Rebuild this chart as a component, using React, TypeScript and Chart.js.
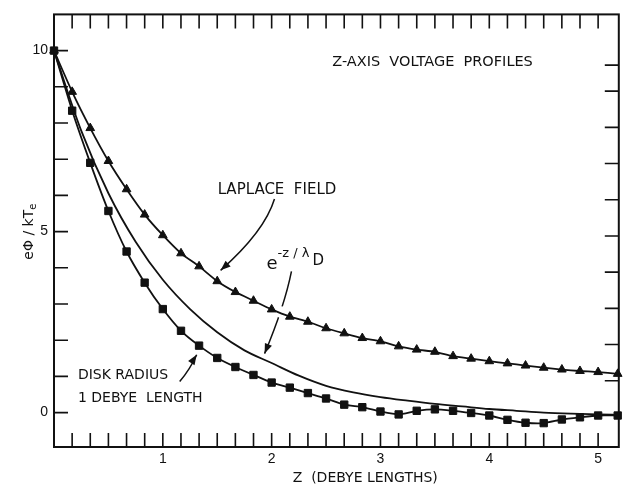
import React, { useEffect, useRef } from 'react';
import { Chart, registerables } from 'chart.js';

Chart.register(...registerables);

// ---- data ----
const zPoints = [0, 0.167, 0.333, 0.5, 0.667, 0.833, 1.0, 1.167, 1.333, 1.5, 1.667, 1.833, 2.0, 2.167, 2.333, 2.5, 2.667, 2.833, 3.0, 3.167, 3.333, 3.5, 3.667, 3.833, 4.0, 4.167, 4.333, 4.5, 4.667, 4.833, 5.0, 5.18];
const laplaceField = [10, 8.86, 7.86, 6.95, 6.17, 5.47, 4.9, 4.4, 4.04, 3.63, 3.33, 3.09, 2.85, 2.65, 2.51, 2.33, 2.19, 2.06, 1.97, 1.83, 1.74, 1.68, 1.56, 1.49, 1.42, 1.36, 1.3, 1.24, 1.19, 1.15, 1.12, 1.07];
const diskRadius = [10, 8.34, 6.9, 5.57, 4.45, 3.59, 2.86, 2.26, 1.85, 1.51, 1.26, 1.04, 0.83, 0.69, 0.54, 0.39, 0.22, 0.15, 0.03, -0.05, 0.05, 0.09, 0.05, -0.01, -0.08, -0.2, -0.28, -0.29, -0.19, -0.13, -0.08, -0.08];
const zExp = [0, 0.25, 0.5, 0.75, 1.0, 1.25, 1.5, 1.75, 2.0, 2.25, 2.5, 2.75, 3.0, 3.25, 3.5, 3.75, 4.0, 4.25, 4.5, 4.75, 5.0, 5.19];
const expDecay = [10, 7.79, 6.06, 4.72, 3.67, 2.86, 2.22, 1.72, 1.37, 1.02, 0.74, 0.56, 0.43, 0.33, 0.24, 0.17, 0.1, 0.05, 0.0, -0.03, -0.05, -0.06];

const xTickLabels = [1, 2, 3, 4, 5];
const yTickLabels = [0, 5, 10];
const leftTicks = [0, 1, 2, 3, 4, 5, 6, 7, 8, 9, 10];
const rightTicks = [0.88, 1.88, 2.88, 3.88, 4.88, 5.88, 6.88, 7.88, 8.88, 9.6];
const xMinorStep = 1 / 6;

const X_MIN = 0;
const X_MAX = 5.19;
const Y_MIN = -0.95;
const Y_MAX = 11;

// annotation anchors in data units
const laplaceLeader = [[2.026, 5.9], [1.962, 5.27], [1.779, 4.59], [1.531, 3.93]];
const expLeader = [[2.182, 3.9], [2.118, 2.94], [1.935, 1.63]];
const expLeaderGap = [2.091, 2.77];
const diskLeader = [[1.155, 0.86], [1.311, 1.6]];

const INK = '#111';
const LABEL_FONT = '"DejaVu Sans", "Liberation Sans", sans-serif';
const TICK_FONT = '"Liberation Sans", Arial, sans-serif';

function arrowHead(ctx: CanvasRenderingContext2D, tipX: number, tipY: number, fromX: number, fromY: number, len = 10, half = 3.8) {
  const ang = Math.atan2(tipY - fromY, tipX - fromX);
  const bx = tipX - len * Math.cos(ang);
  const by = tipY - len * Math.sin(ang);
  ctx.beginPath();
  ctx.moveTo(tipX, tipY);
  ctx.lineTo(bx + half * Math.sin(ang), by - half * Math.cos(ang));
  ctx.lineTo(bx - half * Math.sin(ang), by + half * Math.cos(ang));
  ctx.closePath();
  ctx.fill();
}

const decorPlugin = {
  id: 'decor',
  beforeDraw(chart: any) {
    const { ctx, width, height } = chart;
    ctx.save();
    ctx.fillStyle = '#fff';
    ctx.fillRect(0, 0, width, height);
    ctx.restore();
  },
  beforeDatasetsDraw(chart: any) {
    const { ctx, chartArea: a, scales } = chart;
    const px = (v: number) => scales.x.getPixelForValue(v);
    const py = (v: number) => scales.y.getPixelForValue(v);
    ctx.save();
    ctx.strokeStyle = INK;
    ctx.fillStyle = INK;
    ctx.lineCap = 'butt';

    // frame
    ctx.lineWidth = 2;
    ctx.strokeRect(a.left, a.top, a.right - a.left, a.bottom - a.top);

    // inward ticks
    const TL = 14;
    ctx.lineWidth = 1.6;
    ctx.beginPath();
    for (let k = 1; k * xMinorStep < X_MAX - 0.05; k++) {
      const X = px(k * xMinorStep);
      ctx.moveTo(X, a.bottom);
      ctx.lineTo(X, a.bottom - TL);
      ctx.moveTo(X, a.top);
      ctx.lineTo(X, a.top + TL);
    }
    leftTicks.forEach((v) => {
      const Y = py(v);
      ctx.moveTo(a.left, Y);
      ctx.lineTo(a.left + TL, Y);
    });
    rightTicks.forEach((v) => {
      const Y = py(v);
      ctx.moveTo(a.right, Y);
      ctx.lineTo(a.right - TL, Y);
    });
    ctx.stroke();

    // leaders
    ctx.lineWidth = 1.5;
    const L = laplaceLeader.map(([zx, vy]) => [px(zx), py(vy)]);
    ctx.beginPath();
    ctx.moveTo(L[0][0], L[0][1]);
    ctx.bezierCurveTo(L[1][0], L[1][1], L[2][0], L[2][1], L[3][0], L[3][1]);
    ctx.stroke();
    arrowHead(ctx, L[3][0], L[3][1], L[2][0], L[2][1]);

    const E = expLeader.map(([zx, vy]) => [px(zx), py(vy)]);
    ctx.beginPath();
    ctx.moveTo(E[0][0], E[0][1]);
    ctx.quadraticCurveTo(E[1][0], E[1][1], E[2][0], E[2][1]);
    ctx.stroke();
    arrowHead(ctx, E[2][0], E[2][1], E[1][0], E[1][1]);

    const D = diskLeader.map(([zx, vy]) => [px(zx), py(vy)]);
    ctx.beginPath();
    ctx.moveTo(D[0][0], D[0][1]);
    ctx.quadraticCurveTo((D[0][0] + D[1][0]) / 2 + 2, (D[0][1] + D[1][1]) / 2 + 1, D[1][0], D[1][1]);
    ctx.stroke();
    arrowHead(ctx, D[1][0], D[1][1], D[0][0], D[0][1]);

    // gap where the exp leader passes behind the Laplace curve
    ctx.fillStyle = '#fff';
    ctx.beginPath();
    ctx.arc(px(expLeaderGap[0]), py(expLeaderGap[1]), 6, 0, Math.PI * 2);
    ctx.fill();
    ctx.fillStyle = INK;

    // texts
    ctx.textBaseline = 'alphabetic';
    ctx.textAlign = 'right';
    ctx.font = `14.5px ${LABEL_FONT}`;
    ctx.fillText('Z-AXIS  VOLTAGE  PROFILES', px(4.4), py(9.57));

    ctx.textAlign = 'left';
    ctx.font = `15px ${LABEL_FONT}`;
    ctx.fillText('LAPLACE  FIELD', px(1.504), py(6.04));

    ctx.font = `14px ${LABEL_FONT}`;
    ctx.fillText('DISK RADIUS', px(0.22), py(0.94));
    ctx.fillText('1 DEBYE  LENGTH', px(0.22), py(0.28));

    ctx.font = `18px ${LABEL_FONT}`;
    ctx.fillText('e', px(1.953), py(3.98));
    ctx.font = `13px ${LABEL_FONT}`;
    ctx.fillText('-z / λ', px(2.054), py(4.31));
    ctx.font = `15px ${LABEL_FONT}`;
    ctx.fillText('D', px(2.375), py(4.09));

    // x axis title
    ctx.textAlign = 'center';
    ctx.font = `14px ${LABEL_FONT}`;
    ctx.fillText('Z  (DEBYE LENGTHS)', px(2.86), a.bottom + 35);

    // y axis title (rotated, with subscript)
    ctx.save();
    ctx.translate(29, py(5.0));
    ctx.rotate(-Math.PI / 2);
    ctx.textAlign = 'left';
    ctx.textBaseline = 'middle';
    ctx.font = `14px ${LABEL_FONT}`;
    const main = 'eΦ / kT';
    const mw = ctx.measureText(main).width;
    ctx.font = `10px ${LABEL_FONT}`;
    const sw = ctx.measureText('e').width;
    const start = -(mw + sw) / 2;
    ctx.font = `14px ${LABEL_FONT}`;
    ctx.fillText(main, start, 0);
    ctx.font = `10px ${LABEL_FONT}`;
    ctx.fillText('e', start + mw, 4);
    ctx.restore();

    ctx.restore();
  },
};

export default function App() {
  const ref = useRef<HTMLCanvasElement>(null);
  useEffect(() => {
    const canvas = ref.current;
    if (!canvas) return;
    const toXY = (xs: number[], ys: number[]) => xs.map((x, i) => ({ x, y: ys[i] }));
    const chart = new Chart(canvas, {
      type: 'line',
      data: {
        datasets: [
          {
            label: 'e^-z/λD',
            data: toXY(zExp, expDecay),
            borderColor: INK,
            borderWidth: 1.8,
            pointRadius: 0,
            cubicInterpolationMode: 'monotone',
            clip: false as any,
          },
          {
            label: 'Laplace field',
            data: toXY(zPoints, laplaceField),
            borderColor: INK,
            borderWidth: 1.8,
            pointStyle: 'triangle',
            pointRadius: 5,
            pointBackgroundColor: INK,
            pointBorderColor: INK,
            pointBorderWidth: 1,
            tension: 0.2,
            clip: false as any,
          },
          {
            label: 'Disk radius 1 Debye length',
            data: toXY(zPoints, diskRadius),
            borderColor: INK,
            borderWidth: 1.8,
            pointStyle: 'rect',
            pointRadius: 5.2,
            pointBackgroundColor: INK,
            pointBorderColor: INK,
            pointBorderWidth: 1,
            tension: 0.2,
            clip: false as any,
          },
        ],
      },
      options: {
        animation: false,
        responsive: false,
        layout: { padding: { top: 11, right: 5, left: 0, bottom: 0 } },
        plugins: {
          legend: { display: false },
          tooltip: { enabled: false },
        },
        scales: {
          x: {
            type: 'linear',
            min: X_MIN,
            max: X_MAX,
            grid: { display: false, drawTicks: false },
            border: { display: false },
            afterBuildTicks: (s: any) => {
              s.ticks = xTickLabels.map((v) => ({ value: v }));
            },
            afterFit: (s: any) => {
              s.height = 40;
            },
            ticks: {
              color: INK,
              font: { family: TICK_FONT, size: 14 },
              padding: 4,
              maxRotation: 0,
              autoSkip: false,
            },
          },
          y: {
            type: 'linear',
            min: Y_MIN,
            max: Y_MAX,
            grid: { display: false, drawTicks: false },
            border: { display: false },
            afterBuildTicks: (s: any) => {
              s.ticks = yTickLabels.map((v) => ({ value: v }));
            },
            afterFit: (s: any) => {
              s.width = 54;
            },
            ticks: {
              color: INK,
              font: { family: TICK_FONT, size: 14 },
              padding: 6,
              autoSkip: false,
            },
          },
        },
      },
      plugins: [decorPlugin],
    });
    return () => chart.destroy();
  }, []);

  return (
    <div style={{ position: 'absolute', left: 0, top: 0, width: 625, height: 487, background: '#fff' }}>
      <canvas ref={ref} width={625} height={487} style={{ display: 'block' }} />
    </div>
  );
}
